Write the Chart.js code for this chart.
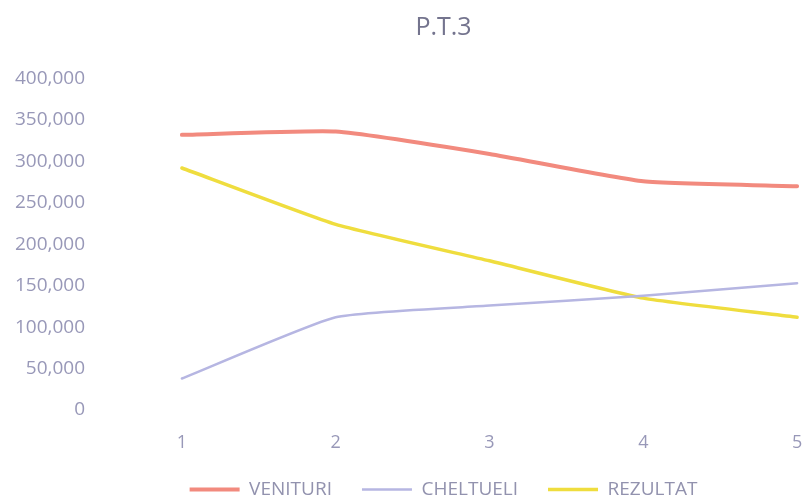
<!DOCTYPE html>
<html>
<head>
<meta charset="utf-8">
<title>P.T.3</title>
<script src="https://cdn.jsdelivr.net/npm/chart.js@4/dist/chart.umd.min.js"></script>
<style>
  html, body { margin: 0; padding: 0; background: #ffffff; overflow: hidden; }
  #wrap { width: 896px; height: 500px; }
</style>
</head>
<body>
<div id="wrap"><canvas id="chart" width="896" height="500"></canvas></div>
<script>
// Periods on the horizontal axis
const categories = ['1', '2', '3', '4', '5'];

// Series values
const venituri  = [332000, 336000, 309000, 276000, 270000];
const cheltueli = [38000, 112000, 126000, 138000, 153000];
const rezultat  = [292000, 224000, 180000, 135000, 112000];

// Value axis ticks
const yTicks = [0, 50000, 100000, 150000, 200000, 250000, 300000, 350000, 400000];

const FONT = '"Open Sans", "Noto Sans", sans-serif';
const TEXT = '#9898b8';

new Chart(document.getElementById('chart'), {
  type: 'line',
  data: {
    labels: categories,
    datasets: [
      { label: 'VENITURI',  data: venituri,  borderColor: '#f28a7e', backgroundColor: '#f28a7e', borderWidth: 4 },
      { label: 'CHELTUELI', data: cheltueli, borderColor: '#b6b6e2', backgroundColor: '#b6b6e2', borderWidth: 2.5 },
      { label: 'REZULTAT',  data: rezultat,  borderColor: '#efdd3e', backgroundColor: '#efdd3e', borderWidth: 3.5 }
    ]
  },
  options: {
    responsive: false,
    animation: false,
    layout: { padding: { left: 13, right: 22, top: 0, bottom: 0 } },
    elements: {
      point: { radius: 0, hoverRadius: 0 },
      line: { tension: 0.15, borderCapStyle: 'round', borderJoinStyle: 'round' }
    },
    scales: {
      x: {
        type: 'category',
        offset: true,
        grid: { display: false, drawTicks: false },
        border: { display: false },
        ticks: { color: TEXT, font: { family: FONT, size: 18 }, padding: 22, maxRotation: 0 },
        afterFit: (s) => { s.height = 40; }
      },
      y: {
        min: 0,
        max: 400000,
        grid: { display: false, drawTicks: false },
        border: { display: false },
        afterBuildTicks: (s) => { s.ticks = yTicks.map(v => ({ value: v })); },
        ticks: {
          color: TEXT,
          font: { family: FONT, size: 19 },
          padding: 20,
          callback: (v) => Number(v).toLocaleString('en-US')
        },
        afterFit: (s) => { s.width = 92; }
      }
    },
    plugins: {
      title: {
        display: true,
        text: 'P.T.3',
        color: '#74748e',
        font: { family: FONT, size: 25, weight: 'normal' },
        padding: { top: 13, bottom: 35.5 }
      },
      legend: {
        position: 'bottom',
        maxHeight: 50,
        labels: {
          color: '#9292ae',
          font: { family: FONT, size: 19 },
          usePointStyle: true,
          pointStyle: 'line',
          pointStyleWidth: 50,
          padding: 30
        }
      },
      tooltip: { enabled: false }
    }
  }
});
</script>
</body>
</html>
